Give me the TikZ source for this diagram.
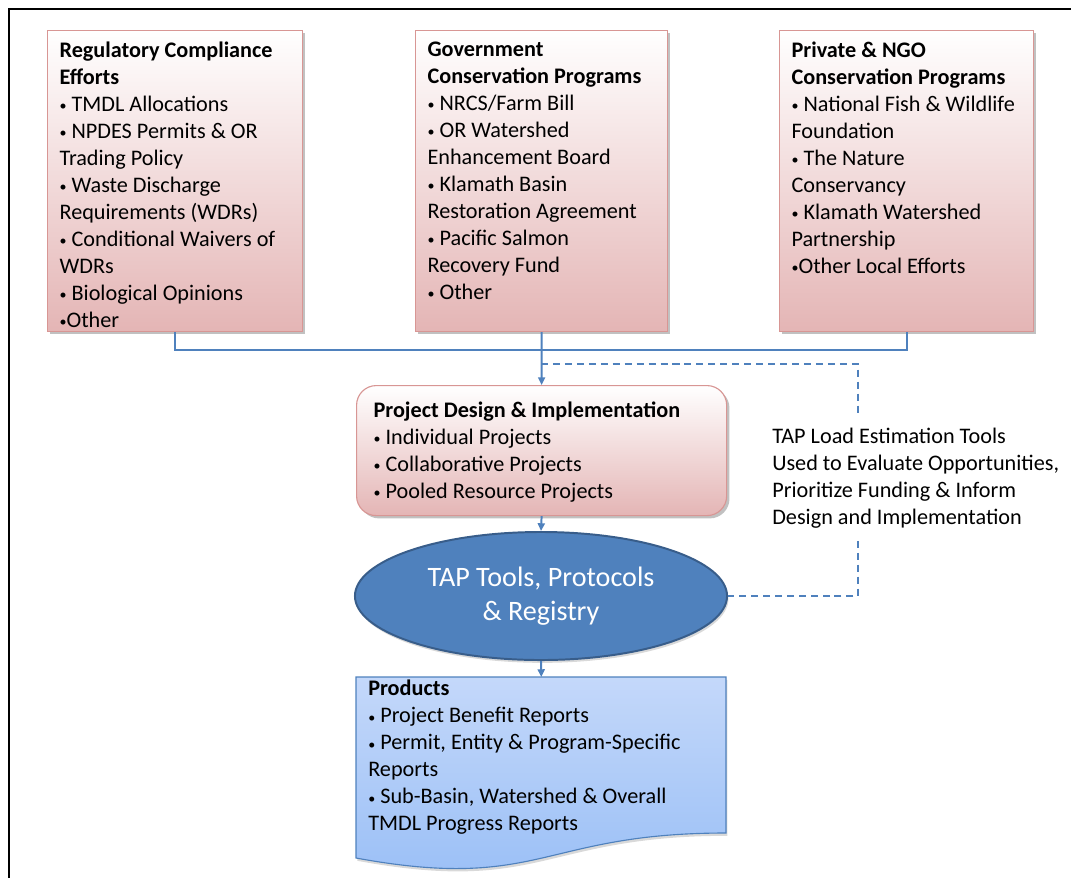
\documentclass[tikz,border=0pt]{standalone}
\usepackage{fontspec}
\setmainfont{Carlito}
\usetikzlibrary{shapes.geometric,shadows,arrows.meta}

\definecolor{pinktop}{RGB}{255,255,255}
\definecolor{pinkbot}{RGB}{228,181,181}
\definecolor{pinkline}{RGB}{216,150,148}
\definecolor{tapblue}{RGB}{79,129,189}
\definecolor{tapline}{RGB}{56,93,138}
\definecolor{prodtop}{RGB}{196,216,250}
\definecolor{prodbot}{RGB}{152,190,246}

\newcommand{\boxlines}[3]{\parbox[t][#2][t]{#1}{\raggedright #3}}
\newcommand{\bul}{\raisebox{0.6pt}{\fontsize{10}{10}\selectfont•}}

\begin{document}
\begin{tikzpicture}[x=0.025cm, y=-0.025cm,
  font=\fontsize{15.8}{19.2}\selectfont,
  >={Triangle[length=5.5pt,width=5pt]},
  pinkbox/.style={draw=pinkline, line width=0.8pt, top color=pinktop, bottom color=pinkbot,
    anchor=north west, inner xsep=0.3cm, inner ysep=0.28cm,
    drop shadow={shadow xshift=2pt, shadow yshift=-2pt, opacity=0.35, fill=black!70}},
  tapnode/.style={ellipse, fill=tapblue, draw=tapline, line width=1.4pt, text=white,
    minimum width=9.3cm, minimum height=3.2cm, inner sep=0pt, align=center,
    font=\fontsize{20}{24.4}\selectfont},
  conn/.style={draw=tapblue, line width=1.4pt}]
\useasboundingbox (0,0) rectangle (1071,877);
\draw[line width=2pt] (9,9) rectangle (1100,900);

\node[pinkbox] (reg) at (47,30) {\boxlines{5.775cm}{6.965cm}{{\bfseries Regulatory Compliance\\Efforts}\\
  \bul{} TMDL Allocations\\\bul{} NPDES Permits \& OR\\Trading Policy\\\bul{} Waste Discharge\\Requirements (WDRs)\\
  \bul{} Conditional Waivers of\\WDRs\\\bul{} Biological Opinions\\\bul Other}};
\node[pinkbox] (gov) at (415,30) {\boxlines{5.7cm}{6.965cm}{{\bfseries Government\\Conservation Programs}\\
  \bul{} NRCS/Farm Bill\\\bul{} OR Watershed\\Enhancement Board\\\bul{} Klamath Basin\\Restoration Agreement\\
  \bul{} Pacific Salmon\\Recovery Fund\\\bul{} Other}};
\node[pinkbox] (priv) at (779,30) {\boxlines{5.75cm}{6.965cm}{{\bfseries Private \& NGO\\Conservation Programs}\\
  \bul{} National Fish \& Wildlife\\Foundation\\\bul{} The Nature\\Conservancy\\\bul{} Klamath Watershed\\Partnership\\
  \bul Other Local Efforts}};

\node[pinkbox, rounded corners=14pt, inner xsep=0.425cm, inner ysep=0.41cm] (design) at (356,385)
  {\boxlines{8.4cm}{2.43cm}{{\bfseries Project Design \& Implementation}\\
  \bul{} Individual Projects\\\bul{} Collaborative Projects\\\bul{} Pooled Resource Projects}};

\node[tapnode, drop shadow={shadow xshift=1pt, shadow yshift=-2pt, opacity=0.3}] (tap) at (541,596)
  {TAP Tools, Protocols\\\& Registry};

\path[draw=tapblue, line width=0.8pt, top color=prodtop, bottom color=prodbot,
  drop shadow={shadow xshift=1pt, shadow yshift=-2pt, opacity=0.3}]
  (356,677) -- (726,677) -- (726,833) .. controls (541,833) and (541,892) .. (356,858) -- cycle;
\node[anchor=north west, inner xsep=0.3cm, inner ysep=0.075cm] (prod) at (356,677)
  {\boxlines{8.65cm}{4.2cm}{{\bfseries Products}\\\bul{} Project Benefit Reports\\\bul{} Permit, Entity \& Program-Specific\\Reports\\
  \bul{} Sub-Basin, Watershed \& Overall\\TMDL Progress Reports}};

\node[anchor=north west, inner xsep=0pt, inner ysep=0.3cm, align=left] (load) at (772,416)
  {TAP Load Estimation Tools\\Used to Evaluate Opportunities,\\Prioritize Funding \& Inform\\Design and Implementation};

\coordinate (join) at (541,350);
\coordinate (split) at (541,364);
\coordinate (bend1) at (858,364);
\coordinate (bend2) at (858,596);

\draw[conn] (reg.south) |- (join) -| (priv.south);
\draw[conn, ->] (gov.south) -- (design.north);
\draw[conn, ->] (design.south) -- (tap.north);
\draw[conn, ->] (tap.south) -- (prod.north);
\draw[conn, dashed, dash pattern=on 5pt off 3.5pt] (split) -- (bend1) -- (load.north -| bend1);
\draw[conn, dashed, dash pattern=on 5pt off 3.5pt] (load.south -| bend1) -- (bend2) -- (tap.east);

\end{tikzpicture}
\end{document}
